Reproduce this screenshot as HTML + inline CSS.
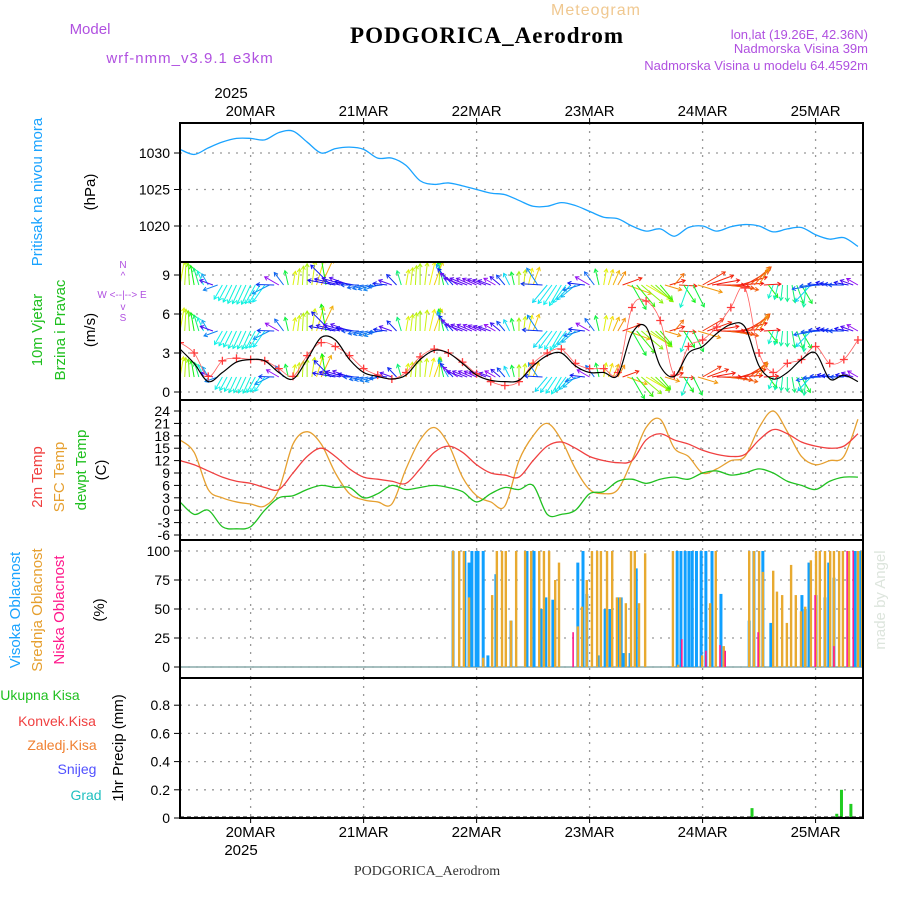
<!DOCTYPE html>
<html><head><meta charset="utf-8"><style>
body{margin:0;background:#fff;width:900px;height:900px;overflow:hidden}
svg{display:block;font-family:"Liberation Sans",sans-serif}
</style></head><body>
<svg id="c" width="900" height="900" viewBox="0 0 900 900"></svg>
<script>
// ---- data (3-hourly, starting 19MAR 09h) ----
const pressure=[1030.5,1029.8,1030.7,1031.5,1032,1032,1031.8,1032.8,1033,1031.5,1030,1030.6,1030.8,1030.5,1029.3,1029.3,1028.3,1026.2,1025.7,1025.9,1025.5,1025,1024.5,1024.3,1023.5,1022.7,1022.7,1023.2,1022.8,1022,1021.2,1021,1020,1019.3,1019.6,1018.6,1019.8,1020,1019.3,1019.9,1020.2,1020,1019.2,1019.6,1019.8,1018.8,1018.2,1018.4,1017.2];
const wind10=[3.3,2.2,0.8,1.5,2.3,2.5,2.4,1.5,1.0,2.5,4.2,4.0,2.5,1.5,1.2,1.0,1.3,2.5,3.2,3.0,2.2,1.3,0.9,0.8,0.9,2.0,2.8,3.0,2.0,1.5,1.5,1.3,4.5,5.0,2.0,1.2,3.0,3.5,4.5,5.2,5.0,2.0,1.0,1.5,2.5,3.0,1.0,1.3,0.8];
const gust=[3.8,3.0,1.2,2.4,2.6,2.5,2.4,1.8,1.2,2.8,3.8,3.5,2.8,1.8,1.3,1.0,1.5,2.7,3.3,3.0,2.3,1.4,0.8,0.5,0.8,2.2,3.0,3.3,2.2,1.8,1.8,1.5,6.5,7.0,5.5,1.3,3.5,4.0,5.0,6.5,8.0,3.0,1.5,2.2,2.5,3.5,2.2,2.5,4.0];
const windDir=[10,350,330,210,205,205,215,300,10,0,25,280,290,260,250,290,10,0,20,330,290,295,290,320,0,20,220,210,230,300,10,30,150,120,140,40,200,60,90,100,60,30,200,180,150,260,280,270,300];
const t2m=[12,11,9.5,8,7,6.5,5.5,5,9,13,15,13,10,8,7.5,7,6.5,10,14,15.5,14,11,9,8.5,8,12,15.5,16.5,15,13,12,11.5,12,17,18.5,17,16,14.5,13.5,13,13.5,17,19.5,18.5,16.5,15.5,15,15.5,18.5];
const tsfc=[17,14,5,3,2,1.5,1,5,16,19,16,9,4,2.5,2,1.5,10,17,20,16,8,3.5,2,1,12,18,21,17,10,5,4,5,12,20,22,15,13,9,10,12,13,20,24,19,13,11,12,13,22];
const tdew=[2,-1,0,-4,-4.5,-4,0,3,3.5,5,6,5.5,5.5,3,4,6,5,5.5,6,5.5,4.5,2,4,5.5,5,6,-1,-1,0,4,4.5,7,7.5,6.5,7.5,8,7.5,9,9.5,8.5,9,10,9,7,6,5,7,8,8];
const hiH=[58,60.5,61.4,62,62.9,63.3,64.4,65.4,67.1,70.3,73.7,75.2,76.7,77.7,79.2,84.5,85.6,86.4,88.8,90.3,91.3,93,93.7,94.3,95.6,96.9,105.6,106.4,107.3,108.1,108.8,109.7,110.7,111.7,113,114.9,120.9,121.9,123.8,125.5,132.1,132.8,133.6,135.1,137,137.8,138.9,143.4,144.6];
const hiV=[100,100,90,100,100,100,100,10,80,40,100,100,50,60,58,90,100,63,10,50,50,60,60,12,12,85,100,100,100,100,100,100,100,100,100,63,40,100,100,38,62,50,90,62,60,90,77,100,100];
const midH=[58,59.3,60.3,61.4,64.4,66.3,67.3,68.4,69.2,70.3,71.4,73.3,74.6,76.3,77.3,78.4,79.7,80.5,84.5,85.4,86.4,87.5,88.6,89.4,90.7,91.8,92.8,93.5,94.7,95.8,96.6,97.5,98.8,104.7,105.8,110.9,112.6,113.8,115.5,120.9,121.9,123,123.8,126,126.8,127.9,128.9,129.8,130.8,131.9,132.8,134,135.1,135.9,137,138.1,138.9,140,140.8,142.1,144,144.9];
const midV=[100,100,100,60,8,62,100,100,100,40,100,100,100,100,100,100,75,90,35,52,75,100,100,100,100,100,60,60,55,100,100,55,98,100,2,10,55,100,18,100,100,100,82,83,65,62,38,88,62,48,52,92,100,100,100,100,100,100,100,100,100,100];
const lowH=[83.5,106.6,111.7,114.7,115.8,122.8,134.9,138.9,141.7,143];
const lowV=[30,24,14,19,14,30,62,18,100,100];
const precH=[121.5,139.5,140.5,142.5];
const precV=[0.07,0.03,0.2,0.1];
const dayLabels=["20MAR","21MAR","22MAR","23MAR","24MAR","25MAR"];
const pTicks=[1020,1025,1030],wTicks=[0,3,6,9],tTicks=[-6,-3,0,3,6,9,12,15,18,21,24],cTicks=[0,25,50,75,100],rTicks=[0,0.2,0.4,0.6,0.8];

// ---- scales ----
const X0=180,X1=863,PXH=4.708;
const xh=h=>X0+h*PXH;
const yP=v=>153+(1030-v)*7.3;
const yW=v=>392-v*13;
const yT=v=>535-(v+6)*4.133;
const yC=v=>667-v*1.16;
const yR=v=>818-v*141;
const NS='http://www.w3.org/2000/svg';
const svg=document.getElementById('c');
function el(t,a,p){const e=document.createElementNS(NS,t);for(const k in a)e.setAttribute(k,a[k]);(p||svg).appendChild(e);return e;}
function txt(s,x,y,a,p){const e=el('text',Object.assign({x:x,y:y},a),p);e.textContent=s;return e;}
const defs=el('defs',{});
const cp=el('clipPath',{id:'wclip'},defs);el('rect',{x:X0,y:263,width:X1-X0,height:136},cp);
const panels=[[123,262,'pressure-panel'],[262,400,'wind-panel'],[400,540,'temperature-panel'],[540,678,'cloud-panel'],[678,818,'precip-panel']];
panels.forEach(p=>{
  for(let d=0;d<6;d++){const x=xh(15+d*24);
    const l=el('line',{x1:x,x2:x,y1:p[0],y2:p[1],stroke:'#999','stroke-dasharray':'2,6','stroke-width':1.3});
    }
});
function hgrid(ticks,f,name){ticks.forEach(v=>{const y=f(v);
  const l=el('line',{x1:X0,x2:X1,y1:y,y2:y,stroke:'#999','stroke-dasharray':'2,6','stroke-width':1.3});
  
  el('line',{x1:X0-6,x2:X0,y1:y,y2:y,stroke:'#000'});
  const t=txt(String(v),X0-10,y+5,{'text-anchor':'end','font-size':14,fill:'#000'});
  });}
hgrid(pTicks,yP,'pressure');hgrid(wTicks,yW,'wind');hgrid(tTicks,yT,'temp');hgrid(cTicks,yC,'cloud');hgrid(rTicks,yR,'precip');
function smooth(pts){let d='M'+pts[0][0]+','+pts[0][1];
  for(let i=0;i<pts.length-1;i++){const p0=pts[Math.max(0,i-1)],p1=pts[i],p2=pts[i+1],p3=pts[Math.min(pts.length-1,i+2)];
    d+=`C${p1[0]+(p2[0]-p0[0])/6},${p1[1]+(p2[1]-p0[1])/6} ${p2[0]-(p3[0]-p1[0])/6},${p2[1]-(p3[1]-p1[1])/6} ${p2[0]},${p2[1]}`;}return d;}
function line(arr,f,col,name,w,par){const d=smooth(arr.map((v,i)=>[xh(i*3),f(v)]));
  const p=el('path',{d:d,fill:'none',stroke:col,'stroke-width':w||1.3},par);}
line(pressure,yP,'#1aa3ff','pressure-line');
// wind arrows
function hue(a){const t=[[0,80],[30,35],[60,10],[90,0],[150,130],[200,170],[270,225],[300,275],[330,200],[360,80]];
  for(let i=1;i<t.length;i++)if(a<=t[i][0]){const f=(a-t[i-1][0])/(t[i][0]-t[i-1][0]);return t[i-1][1]+f*(t[i][1]-t[i-1][1]);}return 80;}
function dirAt(h){const i=Math.min(47,Math.floor(h/3)),f=(h-i*3)/3;let a=windDir[i],b=windDir[i+1];let dd=((b-a+540)%360)-180;return (a+dd*f+360)%360;}
function spdAt(h){const i=Math.min(47,Math.floor(h/3)),f=(h-i*3)/3;return wind10[i]+(wind10[i+1]-wind10[i])*f;}
const wg=el('g',{'clip-path':'url(#wclip)'});
[[285,1.4],[331,1.25],[377,1]].forEach(r=>{
  for(let h=0;h<145;h++){const dir=dirAt(h);const a=dir*Math.PI/180;
    const s=spdAt(h)*r[1];const L=Math.min(28,9+s*3.5);const x=xh(h);const y=r[0];
    const x2=x+Math.sin(a)*L,y2=y-Math.cos(a)*L;const c='hsl('+hue(dir)+',90%,50%)';
    const g=el('g',{stroke:c,'stroke-width':1,fill:'none'},wg);
    
    el('line',{x1:x,y1:y,x2:x2,y2:y2},g);
    const b=Math.atan2(y2-y,x2-x);
    el('path',{d:`M${x2+Math.cos(b+2.6)*4},${y2+Math.sin(b+2.6)*4}L${x2},${y2}L${x2+Math.cos(b-2.6)*4},${y2+Math.sin(b-2.6)*4}`},g);}
});
line(gust,yW,'#ff6060','gust-line',0.8,wg);
gust.forEach((v,i)=>{const x=xh(i*3),y=yW(v);const g=el('path',{d:`M${x-4},${y}h8M${x},${y-4}v8`,stroke:'#ff3b3b','stroke-width':1.3},wg);
  });
line(wind10,yW,'#000','wind-speed-line',1.2,wg);
line(tsfc,yT,'#e6a030','sfc-temp-line');line(t2m,yT,'#f04040','t2m-line');line(tdew,yT,'#20c020','dewpoint-line');
// clouds
function bars(H,V,col,w,name){H.forEach((h,i)=>{const x=xh(h);const r=el('rect',{x:x-w/2,y:yC(V[i]),width:w,height:yC(0)-yC(V[i]),fill:col});
  });}
el('line',{x1:X0,x2:X1,y1:yC(0),y2:yC(0),stroke:'#8aa',"stroke-width":1.5});
bars(hiH,hiV,'#10a0ff',3,'high-cloud-bar');bars(midH,midV,'#e8aa30',2.4,'mid-cloud-bar');bars(lowH,lowV,'#ff1a8c',1.6,'low-cloud-bar');
precH.forEach((h,i)=>{const x=xh(h);const r=el('rect',{x:x-1.5,y:yR(precV[i]),width:3,height:yR(0)-yR(precV[i]),fill:'#20cc20'});
  });
el('line',{x1:X0,x2:X1,y1:817,y2:817,stroke:'#000','stroke-dasharray':'4,3'});
panels.forEach(p=>{const r=el('rect',{x:X0,y:p[0],width:X1-X0,height:p[1]-p[0],fill:'none',stroke:'#000','stroke-width':2});
  });
dayLabels.forEach((s,d)=>{const x=xh(15+d*24);
  let t=txt(s,x,116,{'text-anchor':'middle','font-size':15});
  t=txt(s,x,837,{'text-anchor':'middle','font-size':15});
  el('line',{x1:x,x2:x,y1:118,y2:123,stroke:'#000'});el('line',{x1:x,x2:x,y1:818,y2:823,stroke:'#000'});});
function rot(s,x,y,col,fs,name){const t=txt(s,x,y,{'text-anchor':'middle','font-size':fs||14,fill:col,transform:`rotate(-90 ${x} ${y})`});
  }
rot('Pritisak na nivou mora',42,192,'#1aa3ff',15,'pressure-axis-title');rot('(hPa)',95,192,'#000',15,'pressure-unit');
rot('10m Vjetar',42,330,'#20c020',15,'wind-title-1');rot('Brzina i Pravac',65,330,'#20c020',15,'wind-title-2');rot('(m/s)',95,330,'#000',15,'wind-unit');
rot('2m Temp',42,477,'#f04040',15,'t2m-title');rot('SFC Temp',64,477,'#e6a030',15,'sfc-title');rot('dewpt Temp',86,470,'#20c020',15,'dew-title');rot('(C)',106,470,'#000',15,'temp-unit');
rot('Visoka Oblacnost',20,610,'#1aa3ff',15,'high-cloud-title');rot('Srednja Oblacnost',42,610,'#e6a030',15,'mid-cloud-title');rot('Niska Oblacnost',64,610,'#ff1a8c',15,'low-cloud-title');rot('(%)',104,610,'#000',15,'cloud-unit');
rot('1hr Precip (mm)',123,748,'#000',15,'precip-unit');
rot('made by Angel',885,600,'#dde5dd',15,'credit');
[['Ukupna Kisa',40,700,'#20c020'],['Konvek.Kisa',57,726,'#f04040'],['Zaledj.Kisa',62,750,'#f08030'],['Snijeg',77,774,'#5050ff'],['Grad',86,800,'#20c0c0']].forEach(a=>{
  const t=txt(a[0],a[1],a[2],{'text-anchor':'middle','font-size':14,fill:a[3]});});
const cg=el('g',{fill:'#b050e0','font-size':10,'text-anchor':'middle'});
txt('N',123,268,{},cg);txt('^',123,279,{},cg);txt('W  <--|-->  E',122,298,{},cg);txt('v',123,310,{},cg);txt('S',123,321,{},cg);
let t;
t=txt('Model',90,34,{'text-anchor':'middle','font-size':15,fill:'#b050e0'});
t=txt('wrf-nmm_v3.9.1 e3km',190,63,{'text-anchor':'middle','font-size':15,fill:'#b050e0','letter-spacing':1});
t=txt('Meteogram',596,15,{'text-anchor':'middle','font-size':16,fill:'#f0c890','letter-spacing':1});
t=txt('PODGORICA_Aerodrom',487,43,{'text-anchor':'middle','font-size':23,'font-weight':'bold','font-family':'Liberation Serif,serif',fill:'#000','letter-spacing':1});
t=txt('lon,lat (19.26E, 42.36N)',868,39,{'text-anchor':'end','font-size':13,fill:'#b050e0'});
t=txt('Nadmorska Visina 39m',868,53,{'text-anchor':'end','font-size':13,fill:'#b050e0'});
t=txt('Nadmorska Visina u modelu 64.4592m',868,70,{'text-anchor':'end','font-size':13,fill:'#b050e0'});
t=txt('2025',231,98,{'text-anchor':'middle','font-size':15});
t=txt('2025',241,855,{'text-anchor':'middle','font-size':15});
t=txt('PODGORICA_Aerodrom',427,875,{'text-anchor':'middle','font-size':14,'font-family':'Liberation Serif,serif',fill:'#333'});
</script>
</body></html>
